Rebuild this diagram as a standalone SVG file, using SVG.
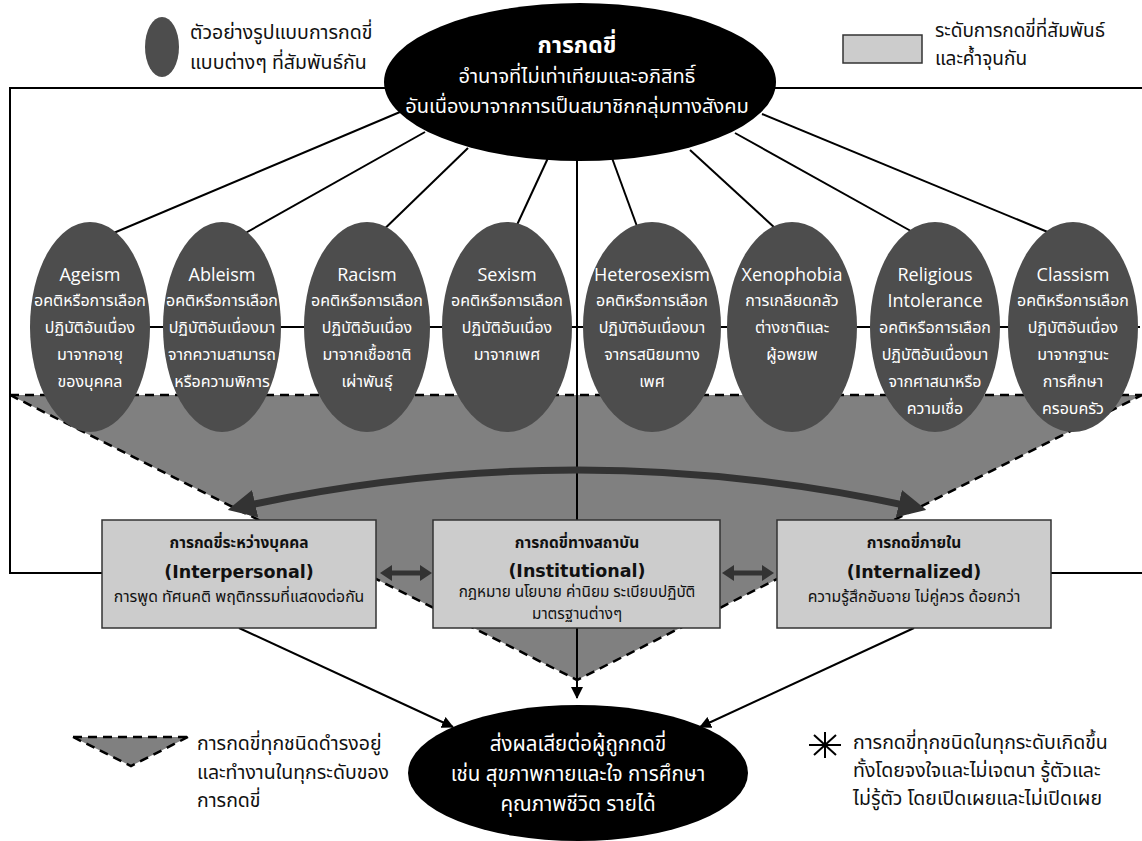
<svg xmlns="http://www.w3.org/2000/svg" width="1142" height="841" viewBox="0 0 1142 841">
  <defs>
    <style>
      .th { font-family: "Noto Sans Thai", "Leelawadee UI", Tahoma, "Noto Sans", sans-serif; }
      .lg { font-size: 19.5px; fill: #111; }
      .wt { fill: #fff; text-anchor: middle; }
      .en { font-family: "Open Sans", "Noto Sans", "Noto Sans Thai", sans-serif; font-size: 18px; }
      .eb { font-family: "DejaVu Sans", Verdana, "Noto Sans Thai", sans-serif; font-size: 17.5px; font-weight: bold; }
      .el { font-size: 16px; }
      .grey { fill: #4d4d4d; }
      .box { fill: #cccccc; stroke: #333; stroke-width: 1.5; }
      .bt { fill: #111; text-anchor: middle; }
      .bh { font-size: 15.5px; font-weight: bold; }
      .bd { font-size: 15.8px; }
      .ln { stroke: #000; stroke-width: 2; fill: none; }
      .dash { stroke: #000; stroke-width: 2.5; stroke-dasharray: 9 6; fill: none; }
    </style>
    <marker id="tri" viewBox="0 0 12 12" refX="11" refY="6" markerWidth="12" markerHeight="12" markerUnits="userSpaceOnUse" orient="auto">
      <path d="M0,0 L12,6 L0,12 z" fill="#000"/>
    </marker>
    <marker id="thick" viewBox="0 0 10 10" refX="7" refY="5" markerWidth="4" markerHeight="4" orient="auto-start-reverse">
      <path d="M0,0 L10,5 L0,10 z" fill="#333"/>
    </marker>
  </defs>

  <rect width="1142" height="841" fill="#fff"/>

  <!-- shaded band: every form operates at every level -->
  <g id="levels-band">
    <polygon points="10,395 1142,395 577,680" fill="#808080"/>
    <path class="dash" d="M10,395 L1142,395 M10,395 L577,680 L1142,395"/>
  </g>

  <g id="connectors">
    <!-- frame lines -->
    <path class="ln" d="M390,88 L10,88 L10,573 L102,573"/>
    <path class="ln" d="M770,88 L1142,88"/>
    <path class="ln" d="M1051,573 L1142,573"/>
    <!-- links between the forms -->
    <path class="ln" d="M30,327 L1140,327"/>
    <!-- spokes from the central ellipse -->
    <path class="ln" d="M400,112 L97,240"/>
    <path class="ln" d="M425,132 L233,240"/>
    <path class="ln" d="M468,148 L373,240"/>
    <path class="ln" d="M548,158 L510,240"/>
    <path class="ln" d="M612,158 L642,240"/>
    <path class="ln" d="M690,150 L788,240"/>
    <path class="ln" d="M735,133 L927,240"/>
    <path class="ln" d="M762,114 L1067,240"/>
    <!-- central trunk to outcome -->
    <path class="ln" d="M577,150 L577,698" marker-end="url(#tri)"/>
    <!-- levels to outcome -->
    <path class="ln" d="M239,628 L453,727" marker-end="url(#tri)"/>
    <path class="ln" d="M914,628 L700,727" marker-end="url(#tri)"/>
    <!-- curved arrow linking interpersonal and internalized -->
    <path d="M236,508 Q577,432 918,508" stroke="#333" stroke-width="7" fill="none" marker-start="url(#thick)" marker-end="url(#thick)"/>
    <!-- horizontal double arrows between level boxes -->
    <g fill="#333">
      <path d="M380,573 L392,565 L392,570.5 L420,570.5 L420,565 L432,573 L420,581 L420,575.5 L392,575.5 L392,581 z"/>
      <path d="M722,573 L734,565 L734,570.5 L762,570.5 L762,565 L774,573 L762,581 L762,575.5 L734,575.5 L734,581 z"/>
    </g>
  </g>

  <!-- central concept -->
  <g id="oppression">
    <ellipse cx="580" cy="82" rx="196" ry="79" fill="#000"/>
    <text class="th wt" x="577" y="53" font-size="23" font-weight="bold">การกดขี่</text>
    <text class="th wt" x="577" y="83" font-size="20">อำนาจที่ไม่เท่าเทียมและอภิสิทธิ์</text>
    <text class="th wt" x="577" y="113" font-size="20">อันเนื่องมาจากการเป็นสมาชิกกลุ่มทางสังคม</text>
  </g>

  <!-- forms of oppression -->
  <g id="ageism">
    <ellipse class="grey" cx="90" cy="327" rx="60" ry="105"/>
    <text class="en wt" x="90" y="281">Ageism</text>
    <text class="th wt el" x="90" y="306">อคติหรือการเลือก</text>
    <text class="th wt el" x="90" y="333">ปฏิบัติอันเนื่อง</text>
    <text class="th wt el" x="90" y="360">มาจากอายุ</text>
    <text class="th wt el" x="90" y="387">ของบุคคล</text>
  </g>
  <g id="ableism">
    <ellipse class="grey" cx="222" cy="327" rx="59" ry="105"/>
    <text class="en wt" x="222" y="281">Ableism</text>
    <text class="th wt el" x="222" y="306">อคติหรือการเลือก</text>
    <text class="th wt el" x="222" y="333">ปฏิบัติอันเนื่องมา</text>
    <text class="th wt el" x="222" y="360">จากความสามารถ</text>
    <text class="th wt el" x="222" y="387">หรือความพิการ</text>
  </g>
  <g id="racism">
    <ellipse class="grey" cx="367" cy="327" rx="63" ry="105"/>
    <text class="en wt" x="367" y="281">Racism</text>
    <text class="th wt el" x="367" y="306">อคติหรือการเลือก</text>
    <text class="th wt el" x="367" y="333">ปฏิบัติอันเนื่อง</text>
    <text class="th wt el" x="367" y="360">มาจากเชื้อชาติ</text>
    <text class="th wt el" x="367" y="387">เผ่าพันธุ์</text>
  </g>
  <g id="sexism">
    <ellipse class="grey" cx="507" cy="327" rx="65" ry="105"/>
    <text class="en wt" x="507" y="281">Sexism</text>
    <text class="th wt el" x="507" y="306">อคติหรือการเลือก</text>
    <text class="th wt el" x="507" y="333">ปฏิบัติอันเนื่อง</text>
    <text class="th wt el" x="507" y="360">มาจากเพศ</text>
  </g>
  <g id="heterosexism">
    <ellipse class="grey" cx="652" cy="327" rx="69" ry="105"/>
    <text class="en wt" x="652" y="281">Heterosexism</text>
    <text class="th wt el" x="652" y="306">อคติหรือการเลือก</text>
    <text class="th wt el" x="652" y="333">ปฏิบัติอันเนื่องมา</text>
    <text class="th wt el" x="652" y="360">จากรสนิยมทาง</text>
    <text class="th wt el" x="652" y="387">เพศ</text>
  </g>
  <g id="xenophobia">
    <ellipse class="grey" cx="792" cy="327" rx="65" ry="105"/>
    <text class="en wt" x="792" y="281">Xenophobia</text>
    <text class="th wt el" x="792" y="306">การเกลียดกลัว</text>
    <text class="th wt el" x="792" y="333">ต่างชาติและ</text>
    <text class="th wt el" x="792" y="360">ผู้อพยพ</text>
  </g>
  <g id="religious-intolerance">
    <ellipse class="grey" cx="935" cy="327" rx="65" ry="105"/>
    <text class="en wt" x="935" y="281">Religious</text>
    <text class="en wt" x="935" y="307">Intolerance</text>
    <text class="th wt el" x="935" y="333">อคติหรือการเลือก</text>
    <text class="th wt el" x="935" y="360">ปฏิบัติอันเนื่องมา</text>
    <text class="th wt el" x="935" y="387">จากศาสนาหรือ</text>
    <text class="th wt el" x="935" y="414">ความเชื่อ</text>
  </g>
  <g id="classism">
    <ellipse class="grey" cx="1073" cy="327" rx="65" ry="105"/>
    <text class="en wt" x="1073" y="281">Classism</text>
    <text class="th wt el" x="1073" y="306">อคติหรือการเลือก</text>
    <text class="th wt el" x="1073" y="333">ปฏิบัติอันเนื่อง</text>
    <text class="th wt el" x="1073" y="360">มาจากฐานะ</text>
    <text class="th wt el" x="1073" y="387">การศึกษา</text>
    <text class="th wt el" x="1073" y="414">ครอบครัว</text>
  </g>

  <!-- levels of oppression -->
  <g id="interpersonal">
    <rect class="box" x="102" y="520" width="274" height="108"/>
    <text class="th bt bh" x="239" y="548">การกดขี่ระหว่างบุคคล</text>
    <text class="eb bt" x="239" y="578">(Interpersonal)</text>
    <text class="th bt bd" x="239" y="602">การพูด ทัศนคติ พฤติกรรมที่แสดงต่อกัน</text>
  </g>
  <g id="institutional">
    <rect class="box" x="433" y="520" width="287" height="108"/>
    <text class="th bt bh" x="577" y="548">การกดขี่ทางสถาบัน</text>
    <text class="eb bt" x="577" y="577">(Institutional)</text>
    <text class="th bt" x="577" y="597" font-size="15.3">กฎหมาย นโยบาย ค่านิยม ระเบียบปฏิบัติ</text>
    <text class="th bt" x="577" y="619" font-size="15.3">มาตรฐานต่างๆ</text>
  </g>
  <g id="internalized">
    <rect class="box" x="777" y="520" width="274" height="108"/>
    <text class="th bt bh" x="914" y="548">การกดขี่ภายใน</text>
    <text class="eb bt" x="914" y="578">(Internalized)</text>
    <text class="th bt bd" x="914" y="602">ความรู้สึกอับอาย ไม่คู่ควร ด้อยกว่า</text>
  </g>

  <!-- outcome -->
  <g id="outcome">
    <ellipse cx="578" cy="773" rx="170" ry="68" fill="#000"/>
    <text class="th wt" x="578" y="751" font-size="20.5">ส่งผลเสียต่อผู้ถูกกดขี่</text>
    <text class="th wt" x="578" y="781" font-size="20.5">เช่น สุขภาพกายและใจ การศึกษา</text>
    <text class="th wt" x="578" y="811" font-size="20.5">คุณภาพชีวิต รายได้</text>
  </g>

  <!-- legends -->
  <g id="legend-forms">
    <ellipse class="grey" cx="162" cy="47" rx="17" ry="30"/>
    <text class="th lg" x="190" y="39">ตัวอย่างรูปแบบการกดขี่</text>
    <text class="th lg" x="190" y="69">แบบต่างๆ ที่สัมพันธ์กัน</text>
  </g>
  <g id="legend-levels">
    <rect class="box" x="843" y="35" width="79" height="28"/>
    <text class="th" x="935" y="37" font-size="19" fill="#111">ระดับการกดขี่ที่สัมพันธ์</text>
    <text class="th" x="935" y="65" font-size="19" fill="#111">และค้ำจุนกัน</text>
  </g>
  <g id="legend-band">
    <polygon points="73,737 188,737 131,766" fill="#808080"/>
    <path class="dash" d="M73,737 L188,737 M73,737 L131,766 L188,737" stroke-dasharray="7 5" stroke-width="2.2"/>
    <text class="th lg" x="197" y="750">การกดขี่ทุกชนิดดำรงอยู่</text>
    <text class="th lg" x="197" y="779">และทำงานในทุกระดับของ</text>
    <text class="th lg" x="197" y="807">การกดขี่</text>
  </g>
  <g id="legend-note">
    <path d="M825,732 L825,758 M809,745 L841,745 M814,735 L836,755 M836,735 L814,755" stroke="#000" stroke-width="2"/>
    <text class="th lg" x="853" y="749">การกดขี่ทุกชนิดในทุกระดับเกิดขึ้น</text>
    <text class="th lg" x="853" y="777">ทั้งโดยจงใจและไม่เจตนา รู้ตัวและ</text>
    <text class="th lg" x="853" y="805">ไม่รู้ตัว โดยเปิดเผยและไม่เปิดเผย</text>
  </g>
</svg>
